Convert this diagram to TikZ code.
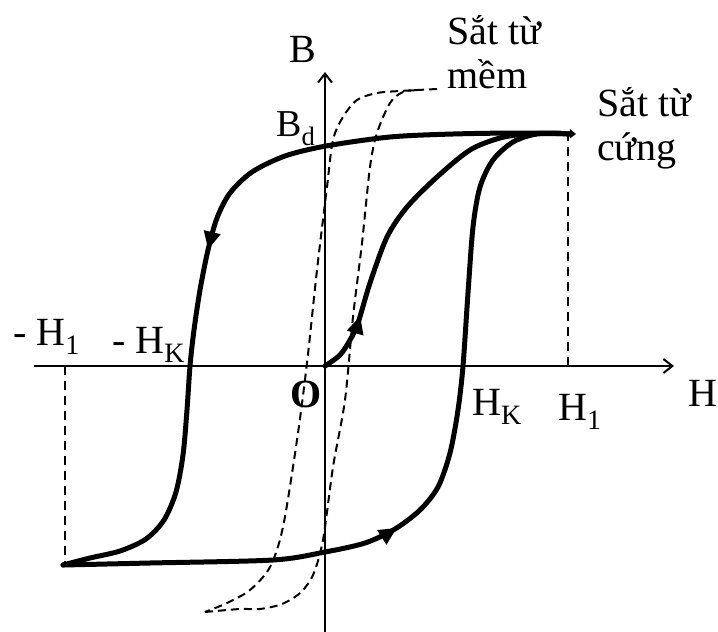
\documentclass[tikz,border=0pt]{standalone}
\usepackage{fontspec}
\setmainfont{Liberation Serif}
\usepackage{tikz}
\usetikzlibrary{arrows.meta,positioning,calc,decorations.markings}

\begin{document}
\begin{tikzpicture}[
    x=1pt, y=-1pt,
    axis/.style={line width=2pt, -{Straight Barb[length=9pt,width=14pt,line width=2pt]}},
    hard/.style={line width=5pt, line cap=round, line join=round},
    soft/.style={line width=2pt, dash pattern=on 8pt off 5pt},
    guide/.style={line width=2.2pt, dash pattern=on 9pt off 6pt},
    lbl/.style={inner sep=0pt, anchor=base west, font=\fontsize{40}{44}\selectfont},
    midarr/.style={postaction={decorate, decoration={markings,
        mark=at position #1 with {\arrow{Triangle[length=18pt,width=16pt]}}}}}
]
    \useasboundingbox (0,0) rectangle (718,632);

    % axes
    \coordinate (O) at (325,366);
    \coordinate (Hl) at (34,366);
    \coordinate (Hr) at (674,366);
    \coordinate (Bb) at (325,632);
    \coordinate (Bt) at (325,72);
    \draw [axis] (Hl) -- (Hr);
    \draw [axis] (Bb) -- (Bt);

    % tips of the hard loop
    \coordinate (T) at (576,134);
    \coordinate (P) at (63,565);
    \coordinate (H1) at (568,366);
    \coordinate (mH1) at (65,366);
    \draw [guide] (H1) -- (568,134);
    \draw [guide] (mH1) -- (65,565);

    % soft ferromagnet (dashed)
    \draw [soft] plot [smooth] coordinates {(437,89) (400,91) (377,93) (357,100) (343,117) (333,140) (327,187) (317,270) (307,363) (297,440) (283,527) (270,567) (250,590) (227,603) (205,612)};
    \draw [soft] plot [smooth] coordinates {(205,612) (240,609) (260,609) (282,604) (300,593) (313,575) (323,540) (333,467) (345,400) (353,317) (362,243) (370,167) (377,133) (390,103) (403,92) (420,90)};

    % hard ferromagnet
    \draw [hard, {Triangle[length=6pt,width=9pt]}-, midarr=0.52] plot [smooth] coordinates {(T) (520,133) (453,134) (390,137) (326,146) (285,156) (252,172) (230,193) (217,218) (208,250) (200,290) (194,330) (190,366) (187,410) (183,455) (176,492) (164,520) (146,539) (120,551) (90,558) (P)};
    \draw [hard, midarr=0.415] plot [smooth] coordinates {(P) (150,563) (273,560) (325,552) (365,543) (395,529) (420,510) (438,487) (450,453) (458,410) (463,366) (468,293) (473,227) (480,187) (493,160) (513,142) (537,134) (570,134)};
    \draw [hard, midarr=0.175] plot [smooth] coordinates {(O) (340,355) (350,340) (358,323) (370,283) (387,237) (407,207) (437,177) (470,150) (500,138) (527,134) (560,133)};

    % labels
    \node [lbl] (lB) at (289,62) {B};
    \node [lbl] (lH) at (688,406) {H};
    \node [lbl] (lO) at (290,407) {\textbf{O}};
    \node [lbl, font=\fontsize{38}{40}\selectfont] (lBd) at (276,136) {B\textsubscript{d}};
    \node [lbl] (lmH1) at (13,345) {- H\textsubscript{1}};
    \node [lbl] (lmHK) at (112,353) {- H\textsubscript{K}};
    \node [lbl] (lHK) at (472,415) {H\textsubscript{K}};
    \node [lbl] (lH1) at (558,420) {H\textsubscript{1}};
    \node [lbl, align=left] (lsoft) at (447,88) {Sắt từ\\mềm};
    \node [lbl, align=left] (lhard) at (597,160) {Sắt từ\\cứng};
\end{tikzpicture}
\end{document}
